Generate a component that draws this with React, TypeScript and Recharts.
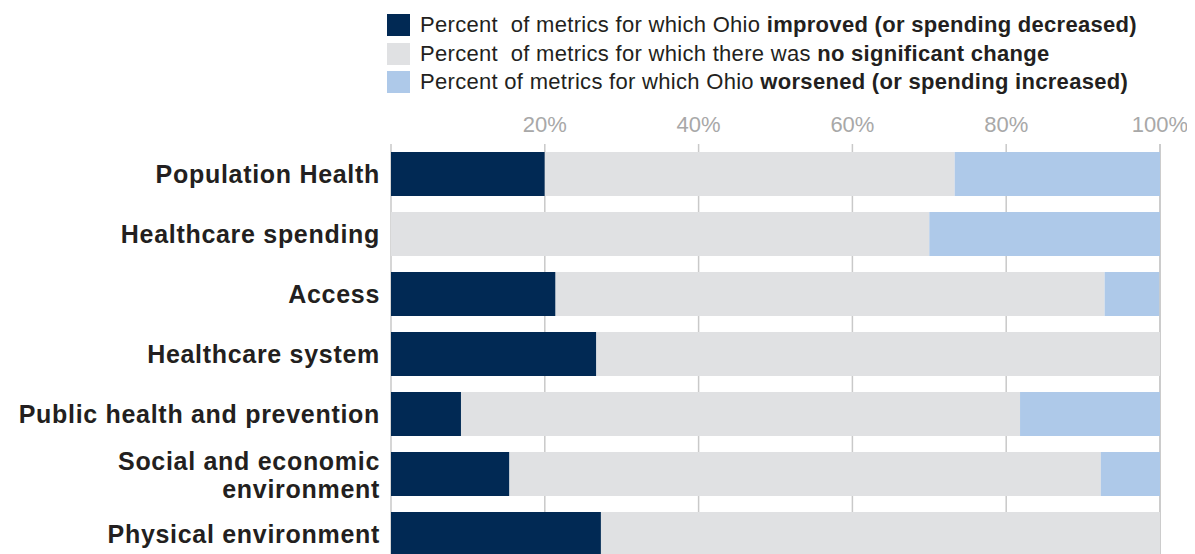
import React from 'react';
import { BarChart, Bar, XAxis, YAxis, CartesianGrid, Legend } from 'recharts';

const categories = [
  'Population Health',
  'Healthcare spending',
  'Access',
  'Healthcare system',
  'Public health and prevention',
  'Social and economic\nenvironment',
  'Physical environment',
];
const improved = [20.0, 0, 21.4, 26.7, 9.1, 15.4, 27.3];
const noChange = [53.3, 70.0, 71.4, 73.3, 72.7, 76.9, 72.7];
const worsened = [26.7, 30.0, 7.1, 0, 18.2, 7.7, 0];
const xTicks = [20, 40, 60, 80, 100];

const seriesKeys = ['improved', 'noChange', 'worsened'];
const seriesColors = ['#012954', '#e0e1e3', '#aec9e9'];
const legendPrefix = [
  'Percent  of metrics for which Ohio ',
  'Percent  of metrics for which there was ',
  'Percent of metrics for which Ohio ',
];
const legendBold = [
  'improved (or spending decreased)',
  'no significant change',
  'worsened (or spending increased)',
];

const data = categories.map((c, i) => ({
  name: c,
  improved: improved[i],
  noChange: noChange[i],
  worsened: worsened[i],
}));

const FONT = '"Liberation Sans", Arial, sans-serif';

const YTick = (props: any) => {
  const { x, y, payload } = props;
  const lines = String(payload.value).split('\n');
  const offsets = lines.length === 1 ? [9] : [-4, 24];
  return (
    <g>
      {lines.map((l, i) => (
        <text
          key={i}
          x={x - 11}
          y={y + offsets[i]}
          textAnchor="end"
          fontFamily={FONT}
          fontWeight="bold"
          fontSize={25}
          letterSpacing={0.7}
          fill="#231f20"
        >
          {l}
        </text>
      ))}
    </g>
  );
};

const XTick = (props: any) => {
  const { x, y, payload } = props;
  return (
    <text
      x={x}
      y={y - 12}
      textAnchor="middle"
      fontFamily={FONT}
      fontSize={22}
      fill="#a8a8a8"
    >
      {`${payload.value}%`}
    </text>
  );
};

const LegendContent = () => (
  <div style={{ height: 100, paddingTop: 3, boxSizing: 'border-box', fontFamily: FONT }}>
    {seriesKeys.map((k, i) => (
      <div
        key={k}
        style={{ height: 28.5, display: 'flex', alignItems: 'center', whiteSpace: 'pre' }}
      >
        <div style={{ width: 23, height: 22, background: seriesColors[i], marginRight: 10 }} />
        <span style={{ fontSize: 22, letterSpacing: 0.3, color: '#231f20', lineHeight: '22px' }}>
          {legendPrefix[i]}
          <b>{legendBold[i]}</b>
        </span>
      </div>
    ))}
  </div>
);

export default function App() {
  return (
    <div style={{ height: 546, overflow: 'hidden' }}>
      <BarChart
        width={1187}
        height={556}
        data={data}
        layout="vertical"
        margin={{ top: 0, right: 35, bottom: 0, left: 0 }}
      >
        <Legend
          verticalAlign="top"
          align="left"
          content={<LegendContent />}
          wrapperStyle={{ top: 0, left: 379, width: 800 }}
        />
        <CartesianGrid horizontal={false} vertical={true} stroke="#c9c9c9" strokeWidth={1.5} />
        <XAxis
          type="number"
          orientation="top"
          domain={[0, 100]}
          ticks={xTicks}
          height={36}
          axisLine={false}
          tickLine={false}
          tickSize={0}
          tickMargin={0}
          tick={<XTick />}
          interval={0}
        />
        <YAxis
          type="category"
          dataKey="name"
          width={383}
          axisLine={false}
          tickLine={false}
          tickSize={0}
          tickMargin={0}
          tick={<YTick />}
          interval={0}
        />
        {seriesKeys.map((k, i) => (
          <Bar
            key={k}
            dataKey={k}
            stackId="a"
            fill={seriesColors[i]}
            barSize={44}
            isAnimationActive={false}
          />
        ))}
      </BarChart>
    </div>
  );
}
